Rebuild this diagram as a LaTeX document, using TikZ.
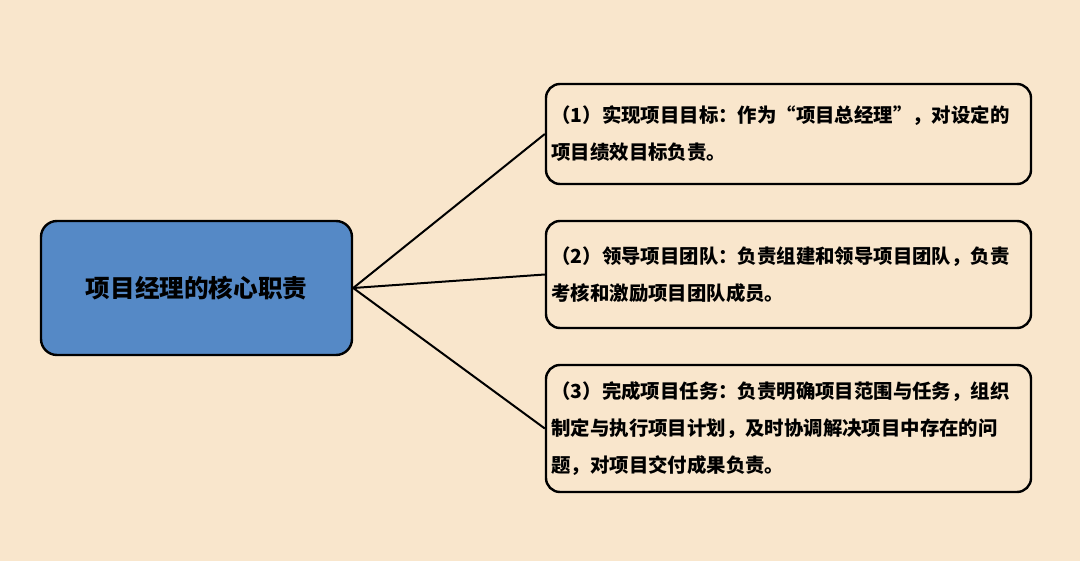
\documentclass[tikz,border=0pt]{standalone}
\usepackage{fontspec}
\newfontfamily\cjk{Noto Sans CJK SC}
\usetikzlibrary{positioning}
\definecolor{bgcol}{HTML}{F9E6CC}
\definecolor{bluecol}{HTML}{5589C6}
\tikzstyle{duty} = [rectangle, rounded corners=7pt, draw=black, line width=1.2pt, fill=bgcol,
                    minimum width=242.5pt, text width=237pt, align=left, inner sep=2.7pt,
                    font=\cjk\bfseries\fontsize{9.7pt}{18.5pt}\selectfont]
\tikzstyle{root} = [rectangle, rounded corners=8pt, draw=black, line width=1.2pt, fill=bluecol,
                    minimum width=155.5pt, minimum height=67pt, font=\cjk\bfseries\fontsize{12.3pt}{14pt}\selectfont]
\begin{document}
\begin{tikzpicture}[x=0.5pt, y=-0.5pt]
  \fill [bgcol] (0, 0) rectangle (1080, 561);
  \useasboundingbox (0, 0) rectangle (1080, 561);
  \node (core) [root] at (196.5, 288) {项目经理的核心职责};
  \node (d1) [duty, minimum height=50pt] at (788.5, 134) {（1）实现项目目标：作为“项目总经理”，对设定的\\项目绩效目标负责。};
  \node (d2) [duty, minimum height=53.5pt] at (788.5, 274.5) {（2）领导项目团队：负责组建和领导项目团队，负责\\考核和激励项目团队成员。};
  \node (d3) [duty, minimum height=63.5pt] at (788.5, 428.5) {（3）完成项目任务：负责明确项目范围与任务，组织\\制定与执行项目计划，及时协调解决项目中存在的问\\题，对项目交付成果负责。};
  \draw [line width=1pt] (core.east) -- (d1.west);
  \draw [line width=1pt] (core.east) -- (d2.west);
  \draw [line width=1pt] (core.east) -- (d3.west);
\end{tikzpicture}
\end{document}
